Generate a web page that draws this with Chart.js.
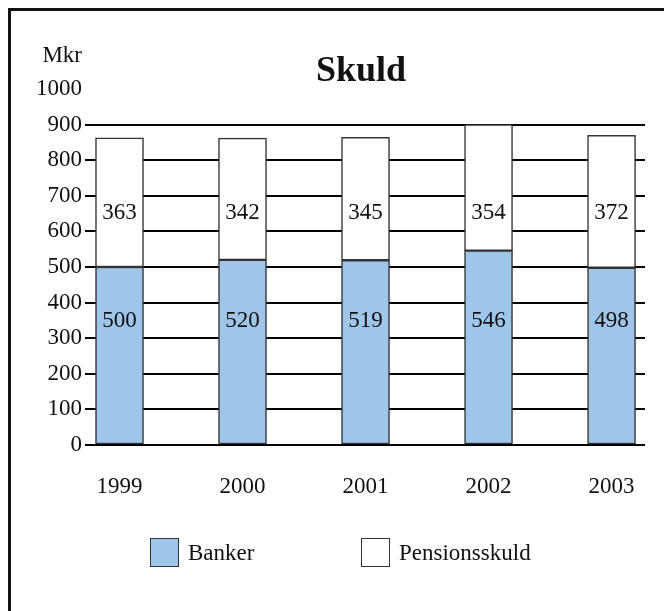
<!DOCTYPE html>
<html><head><meta charset="utf-8">
<script src="https://cdn.jsdelivr.net/npm/chart.js@4.4.1/dist/chart.umd.min.js"></script>
<style>
html,body{margin:0;padding:0;background:#fff;overflow:hidden;width:664px;height:611px;}
#wrap{position:relative;width:664px;height:611px;overflow:hidden;background:#fff;}
#frame{position:absolute;left:8px;top:8px;width:700px;height:700px;border-top:3px solid #111;border-left:3px solid #111;}
canvas{position:absolute;left:0;top:0;}
.t{position:absolute;font-family:'Liberation Serif','Times New Roman',serif;font-size:23px;color:#111;line-height:27px;white-space:nowrap;}
#title{position:absolute;left:261px;width:200px;top:51px;text-align:center;font-family:'Liberation Serif','Times New Roman',serif;font-size:36px;font-weight:bold;line-height:36px;color:#111;}
.box{position:absolute;width:29px;height:29px;box-sizing:border-box;border:1.5px solid #333;}
</style></head><body>
<div id="wrap"><div id="frame"></div><canvas id="c" width="664" height="611"></canvas>
<div id="title">Skuld</div>
<div class="t" id="unit" style="right:582px;top:41px;">Mkr</div>
<div id="legend"></div></div>
<script>
const years = ['1999', '2000', '2001', '2002', '2003'];
const banker = [500, 520, 519, 546, 498];
const pension = [363, 342, 345, 354, 372];
const seriesNames = ['Banker', 'Pensionsskuld'];
const seriesColors = ['#9fc5e8', '#ffffff'];

Chart.defaults.font.family = "'Liberation Serif', 'Times New Roman', serif";
Chart.defaults.font.size = 23;
Chart.defaults.color = '#111';

const labelLevels = [348, 651];
const valueLabels = {
  id: 'valueLabels',
  afterDatasetsDraw(chart) {
    const ctx = chart.ctx, ys = chart.scales.y;
    ctx.save();
    ctx.font = "23px 'Liberation Serif', 'Times New Roman', serif";
    ctx.fillStyle = '#111';
    ctx.textAlign = 'center';
    ctx.textBaseline = 'middle';
    chart.data.datasets.forEach((ds, di) => {
      chart.getDatasetMeta(di).data.forEach((bar, i) => {
        ctx.fillText(String(ds.data[i].y), bar.x, ys.getPixelForValue(labelLevels[di]));
      });
    });
    ctx.restore();
  }
};

const seriesValues = [banker, pension];
const datasets = seriesNames.map((name, si) => ({
  label: name,
  data: seriesValues[si].map((v, i) => ({x: i, y: v})),
  backgroundColor: seriesColors[si],
  borderColor: '#333',
  borderWidth: 1.5,
  borderSkipped: false,
  barThickness: 48
}));

new Chart(document.getElementById('c'), {
  type: 'bar',
  data: {datasets},
  options: {
    responsive: false,
    animation: false,
    devicePixelRatio: 1,
    layout: {padding: {left: 25, right: 19, top: 89, bottom: 111}},
    plugins: {
      legend: {display: false},
      tooltip: {enabled: false},
      title: {display: false}
    },
    scales: {
      x: {
        type: 'linear', stacked: true, offset: false, min: -0.2805, max: 4.272,
        grid: {display: false, drawTicks: false},
        border: {display: false},
        afterBuildTicks: (s) => { s.ticks = years.map((_, i) => ({value: i})); },
        afterFit: (s) => { s.height = 55; },
        ticks: {callback: (v) => years[v], padding: 28, maxRotation: 0, autoSkip: false, color: '#111'}
      },
      y: {
        stacked: true, min: 0, max: 1000,
        ticks: {stepSize: 100, padding: 3, color: '#111', callback: (v) => String(v)},
        grid: {color: (c) => (c.tick && c.tick.value === 1000) ? 'rgba(0,0,0,0)' : '#000', lineWidth: 2, drawTicks: false},
        border: {display: false},
        afterFit: (s) => { s.width = 60; }
      }
    }
  },
  plugins: [valueLabels]
});

// legend
const legendX = [150, 361];
const legend = document.getElementById('legend');
seriesNames.forEach((name, i) => {
  const b = document.createElement('div');
  b.className = 'box';
  b.style.left = legendX[i] + 'px';
  b.style.top = '538px';
  b.style.background = seriesColors[i];
  legend.appendChild(b);
  const t = document.createElement('div');
  t.className = 't';
  t.style.left = (legendX[i] + 38) + 'px';
  t.style.top = '539px';
  t.textContent = name;
  legend.appendChild(t);
});
</script>
</body></html>
